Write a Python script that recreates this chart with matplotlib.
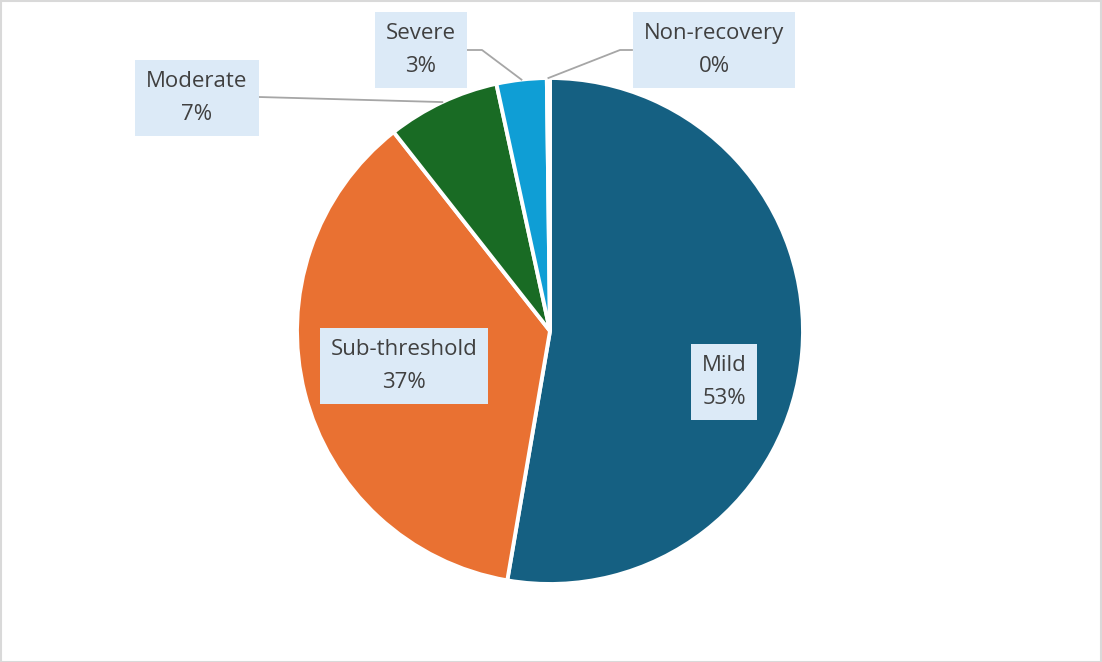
import numpy as np
import matplotlib
matplotlib.use("Agg")
import matplotlib.pyplot as plt
from matplotlib.patches import Rectangle

# data
categories = ["Mild", "Sub-threshold", "Moderate", "Severe", "Non-recovery"]
values = [52.7, 36.7, 7.2, 3.2, 0.2]
pct_labels = ["53%", "37%", "7%", "3%", "0%"]
colors = ["#156082", "#E97132", "#196B24", "#0F9ED5", "#A02B93"]

plt.rcParams['font.family'] = ['Open Sans', 'DejaVu Sans']

W, H = 1102, 662
fig = plt.figure(figsize=(W / 100, H / 100), dpi=100)
ax = fig.add_axes([0, 0, 1, 1])

cx, cy, r = 550, H - 331, 253
wedges, _ = ax.pie(values, startangle=90, counterclock=False, colors=colors,
                   center=(cx, cy), radius=r, frame=True,
                   wedgeprops=dict(edgecolor='white', linewidth=2.8))
ax.set_xlim(0, W)
ax.set_ylim(0, H)
ax.set_aspect('equal')
ax.axis('off')

# label box centres (pixel coords, y from top)
label_pos = [(724, 382), (404, 366), (197, 98), (421, 50), (714, 50)]
box_color = "#DCEAF7"
text_color = "#404040"

for i, w in enumerate(wedges):
    lx, ly = label_pos[i]
    ax.text(lx, H - ly, categories[i] + "\n" + pct_labels[i], ha='center', va='center',
            fontsize=16, color=text_color, linespacing=1.7, zorder=5,
            bbox=dict(boxstyle='square,pad=0.5', facecolor=box_color, edgecolor='none'))

# leader lines for the small outer labels
def edge_point(w):
    mid = np.deg2rad((w.theta1 + w.theta2) / 2)
    return cx + r * np.cos(mid), cy + r * np.sin(mid)

line_color = "#A6A6A6"
# Moderate
px, py = edge_point(wedges[2])
ax.plot([259, px], [H - 97, py], color=line_color, lw=1.3, zorder=1)
# Severe
px, py = edge_point(wedges[3])
ax.plot([467, 482, px], [H - 50, H - 50, py], color=line_color, lw=1.3, zorder=1)
# Non-recovery
px, py = edge_point(wedges[4])
ax.plot([632, 620, px], [H - 50, H - 50, py], color=line_color, lw=1.3, zorder=1)

fig.patches.append(Rectangle((0.5 / W, 0.5 / H), 1 - 1.5 / W, 1 - 1.5 / H,
                             transform=fig.transFigure, fill=False,
                             edgecolor="#D9D9D9", linewidth=1.5))

fig.savefig("out.png", dpi=100)
